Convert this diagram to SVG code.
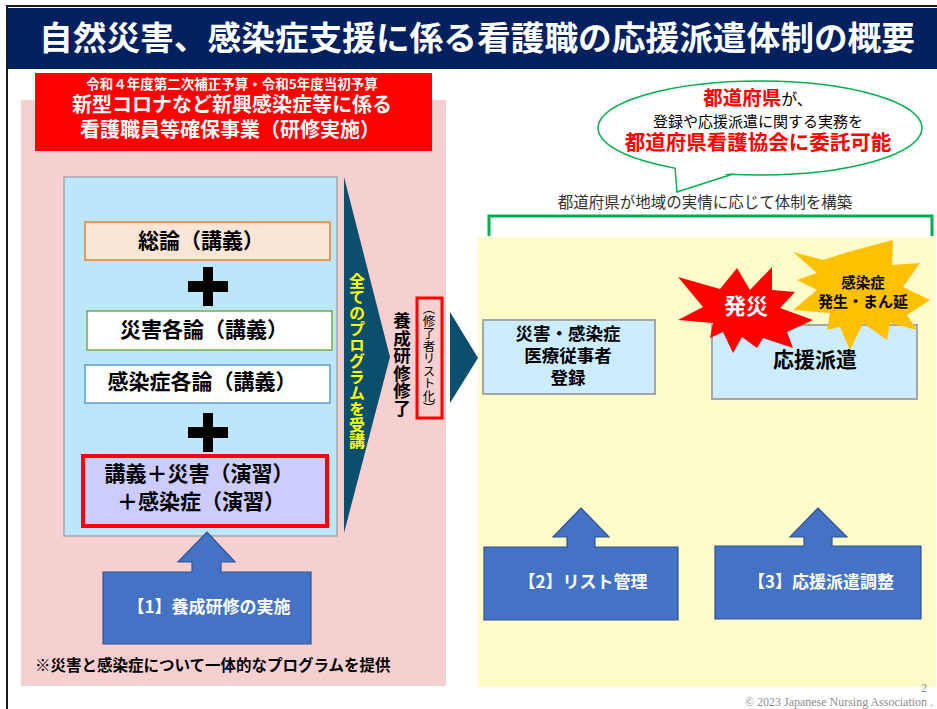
<svg xmlns="http://www.w3.org/2000/svg" width="937" height="709" viewBox="0 0 937 709">
<defs>
<style>
text{font-family:"Noto Sans CJK JP","Noto Sans",sans-serif;}
.b{font-weight:bold;}
.c{text-anchor:middle;}
.prog{stroke-width:1.5;}
.blue{fill:#4472C4;stroke:#2F528F;stroke-width:1.2;}
.wt{fill:#FFFFFF;font-weight:bold;text-anchor:middle;}
.chev{fill:#0B4F6C;}
.rbox{fill:#CCECFF;stroke:#A6A6A6;stroke-width:2;}
.plus{fill:#000000;}
</style>
</defs>
<rect width="937" height="709" fill="#FFFFFF"/>
<line x1="7" y1="5" x2="7" y2="709" stroke="#1a1a1a" stroke-width="2"/>
<line x1="6" y1="6" x2="937" y2="6" stroke="#1a1a1a" stroke-width="2"/>
<g id="title">
<rect x="8" y="8" width="929" height="61" fill="#002060"/>
<text x="477" y="50" class="b c" font-size="33" fill="#FFFFFF" textLength="876" lengthAdjust="spacingAndGlyphs">自然災害、感染症支援に係る看護職の応援派遣体制の概要</text>
</g>
<g id="left-panel">
<rect x="21" y="100" width="425" height="586" fill="#F6D0D0"/>
</g>
<g id="budget">
<rect x="35" y="73" width="397" height="78" fill="#FF0000"/>
<text x="232" y="89" class="b c" font-size="13.5" fill="#FFFFFF">令和４年度第二次補正予算・令和5年度当初予算</text>
<text x="232" y="112" class="b c" font-size="20" fill="#FFFFFF">新型コロナなど新興感染症等に係る</text>
<text x="230" y="137" class="b c" font-size="20" fill="#FFFFFF">看護職員等確保事業（研修実施）</text>
</g>
<g id="program">
<rect x="64" y="177" width="273" height="359" fill="#BCE6FA" stroke="#A6A6A6" stroke-width="1.5"/>
</g>
<g id="sogo">
<rect x="85" y="222" width="245" height="38" fill="#FBE5D6" stroke="#ED7D31" class="prog"/>
<text x="201" y="248" class="b c" font-size="21" fill="#000">総論（講義）</text>
</g>
<g id="plus1"><path class="plus" d="M203,267h10v14h15v11h-15v14h-10v-14h-15v-11h15z"/></g>
<g id="saigai">
<rect x="87" y="311" width="245" height="39" fill="#FFFFFF" stroke="#70AD47" class="prog"/>
<text x="204" y="337" class="b c" font-size="21" fill="#000">災害各論（講義）</text>
</g>
<g id="kansen">
<rect x="85" y="365" width="245" height="38" fill="#FFFFFF" stroke="#5B9BD5" class="prog"/>
<text x="202" y="389" class="b c" font-size="21" fill="#000">感染症各論（講義）</text>
</g>
<g id="plus2"><path class="plus" d="M203,413h10v14h15v11h-15v14h-10v-14h-15v-11h15z"/></g>
<g id="enshu">
<rect x="83" y="456" width="244" height="70" fill="#CCCCFF" stroke="#FF0000" stroke-width="4"/>
<text x="199" y="481" class="b c" font-size="21" fill="#000">講義＋災害（演習）</text>
<text x="201" y="509" class="b c" font-size="21" fill="#000">＋感染症（演習）</text>
</g>
<g id="connectors">
<polygon class="chev" points="344,177 390,357 344,533"/>
<polygon class="chev" points="450,312 478,358 450,403"/>
<polygon class="chev" points="669,317 697,363 669,409"/>
</g>
<g id="juko">
<text x="357" y="273" class="b" font-size="16" fill="#FFFF00" style="writing-mode:vertical-rl;text-orientation:upright">全てのプログラムを受講</text>
</g>
<g id="shuryo">
<text x="402" y="312" class="b" font-size="17.5" fill="#000" style="writing-mode:vertical-rl;text-orientation:upright">養成研修修了</text>
<rect x="417" y="298" width="25" height="120" fill="none" stroke="#FF0000" stroke-width="3"/>
<text x="429" y="302" font-size="12.5" fill="#000" style="writing-mode:vertical-rl">（修了者リスト化）</text>
</g>
<g id="right-panel">
<rect x="478" y="237" width="458" height="450" fill="#FFFCCC"/>
<path d="M489,236 V216 H932 V236" fill="none" stroke="#00B050" stroke-width="3"/>
<text x="705" y="208" class="c" font-size="15.5" fill="#333333">都道府県が地域の実情に応じて体制を構築</text>
</g>
<g id="bubble">
<ellipse cx="760" cy="128" rx="162" ry="47" fill="#FFFFFF" stroke="#00B050" stroke-width="1.5"/>
<polygon points="674,164 677,192 735,171 735,160" fill="#FFFFFF"/>
<polyline points="675,167.5 677,192 733,174" fill="none" stroke="#00B050" stroke-width="1.5"/>
<text x="758" y="105" class="c"><tspan class="b" font-size="19.5" fill="#FF0000">都道府県</tspan><tspan font-size="16" fill="#000">が、</tspan></text>
<text x="758" y="127" class="c" font-size="15" fill="#000">登録や応援派遣に関する実務を</text>
<text x="758" y="150" class="b c" font-size="20.5" fill="#FF0000">都道府県看護協会に委託可能</text>
</g>
<g id="touroku">
<rect x="483" y="320" width="172" height="74" class="rbox"/>
<text x="568" y="340" class="b c" font-size="17.5" fill="#000">災害・感染症</text>
<text x="568" y="362" class="b c" font-size="17.5" fill="#000">医療従事者</text>
<text x="568" y="384" class="b c" font-size="17.5" fill="#000">登録</text>
</g>
<g id="haken">
<rect x="712" y="325" width="205" height="74" class="rbox"/>
<text x="815" y="367" class="b c" font-size="21" fill="#000">応援派遣</text>
</g>
<g id="kansen-star">
<polygon points="848,252 893,240 892,265 920,263 903,287 930,300 907,315 917,330 890,323 887,340 863,323 850,350 840,327 827,330 830,313 793,310 817,290 797,280 817,273 793,252 823,260" fill="#FFC000"/>
<text x="863" y="288" class="b c" font-size="14.5" fill="#000">感染症</text>
<text x="863" y="307" class="b c" font-size="15" fill="#000">発生・まん延</text>
</g>
<g id="hassai">
<polygon points="678,277 720,289 737,268 750,290 772,267 772,290 795,292 780,308 813,320 787,332 793,348 763,338 757,348 742,337 733,353 723,332 710,338 713,323 678,320 703,307" fill="#FF0000"/>
<text x="746" y="314" class="b c" font-size="22" fill="#FFFFFF">発災</text>
</g>
<g id="step1">
<path class="blue" d="M103,572 H192 V562 H178 L207,532 L235,562 H221 V572 H311 V644 H103 Z"/>
<text x="209" y="613" class="wt" font-size="17">【1】養成研修の実施</text>
</g>
<g id="step2">
<path class="blue" d="M484,547 H567 V537 H553 L581,508 L609,537 H595 V547 H678 V620 H484 Z"/>
<text x="583" y="588" class="wt" font-size="17">【2】リスト管理</text>
</g>
<g id="step3">
<path class="blue" d="M715,546 H804 V537 H790 L818,508 L847,537 H832 V546 H921 V619 H715 Z"/>
<text x="821" y="588" class="wt" font-size="17">【3】応援派遣調整</text>
</g>
<g id="note">
<text x="35" y="671" class="b" font-size="15.5" fill="#000">※災害と感染症について一体的なプログラムを提供</text>
</g>
<g id="footer">
<text x="924" y="692" font-size="12" fill="#8C8C8C" style="font-family:'Liberation Serif',serif" text-anchor="middle">2</text>
<text x="933" y="706" font-size="12" fill="#8C8C8C" style="font-family:'Liberation Serif',serif" text-anchor="end" textLength="188" lengthAdjust="spacingAndGlyphs">© 2023 Japanese Nursing Association .</text>
</g>
</svg>
